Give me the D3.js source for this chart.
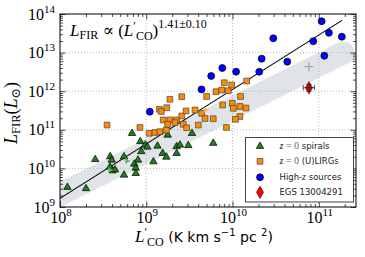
<!DOCTYPE html>
<html><head><meta charset="utf-8">
<script src="https://cdn.jsdelivr.net/npm/d3@7"></script>
<style>body{margin:0;background:#fff}svg{display:block}</style>
</head><body>
<svg id="c" width="365" height="257"></svg>
<script>
// ---- data (L'CO [K km/s pc^2], L_FIR [Lsun]) ----
const spirals = [[1.22e8,3.24e9],[2.00e8,3.01e9],[2.56e8,1.70e10],[3.82e8,2.03e10],[3.98e8,1.65e10],[5.52e8,2.01e10],[3.80e8,1.09e10],[4.08e8,8.71e9],[4.34e8,9.25e9],[5.52e8,6.75e9],[6.84e8,8.11e10],[8.53e8,4.98e10],[9.75e8,4.04e10],[1.03e9,3.58e10],[8.75e8,2.74e10],[8.01e8,1.65e10],[7.26e8,1.30e10],[7.56e8,1.02e10],[7.56e8,7.46e9],[1.21e9,1.49e10],[1.35e9,3.80e10],[1.55e9,2.46e10],[1.71e9,1.97e10],[1.77e9,7.33e10],[2.25e9,3.69e10],[2.46e9,4.04e10],[2.25e9,2.46e10],[3.07e9,3.92e10],[3.39e9,8.11e10],[5.98e9,4.50e10]];
const spiralLimits = [[5.98e8,1.56e10],[3.80e8,9.10e9]];
const lirgs = [[3.51e8,1.33e11],[8.45e8,1.15e11],[1.08e9,8.11e10],[1.26e9,8.51e10],[1.44e9,8.93e10],[1.71e9,9.89e10],[1.42e9,3.40e11],[1.49e9,2.98e11],[1.73e9,3.74e11],[1.88e9,6.17e11],[2.58e9,7.21e11],[1.57e9,1.80e11],[1.88e9,1.80e11],[2.25e9,1.80e11],[1.77e9,1.39e11],[2.15e9,1.53e11],[2.58e9,2.28e11],[2.69e9,1.39e11],[2.94e9,1.13e11],[2.89e9,3.07e11],[3.67e9,3.26e11],[4.39e9,2.67e11],[4.80e9,1.96e11],[5.98e9,1.94e11],[4.01e9,1.33e11],[5.01e9,7.30e11],[6.43e9,9.71e11],[7.48e9,1.07e12],[8.93e9,1.03e12],[8.02e9,1.66e12],[9.77e9,1.45e12],[1.46e10,1.84e12],[7.69e9,4.39e11],[9.93e9,4.86e11],[1.02e10,3.61e11],[1.24e10,7.30e11],[1.22e10,4.02e11],[1.43e10,3.67e11],[1.22e10,2.21e11],[1.08e10,1.87e11],[8.51e9,1.15e11]];
const lirgLimits = [[4.86e9,3.26e11]];
const highz = [[1.10e9,2.94e11],[4.37e9,1.11e12],[5.66e9,2.48e12],[7.61e9,3.99e12],[1.10e10,3.20e12],[2.04e10,3.18e12],[2.18e10,6.95e12],[2.97e10,2.34e13],[4.31e10,5.81e12],[8.63e10,1.97e13],[1.08e11,6.50e13],[1.16e11,8.26e12],[1.31e11,3.26e13],[1.85e11,2.58e13]];
const egs = [7.69e10,1.23e12];
const egsErrX = [6.6e10,8.9e10];
const egsErrY = [1.0e12,1.5e12];
const egsAlt = [7.69e10,4.32e12];
const fitSlope = 1.41, fitNorm = 1.68e9, fitRange = [1e8,1.86e11];
const bandEnds = [[5e7,9.7e8],[1.91e11,9.77e12]];
const xMajor = [1e8,1e9,1e10,1e11], xExp = ["8","9","10","11"];
const yMajor = [1e9,1e10,1e11,1e12,1e13,1e14], yExp = ["9","10","11","12","13","14"];
const legendItems = [
  {sym:"tri", parts:[["z","i"],[" = 0","m"],[" spirals","s"]]},
  {sym:"sq", parts:[["z","i"],[" = 0","m"],[" (U)LIRGs","s"]]},
  {sym:"circ", parts:[["High-","s"],["z","i"],[" sources","s"]]},
  {sym:"dia", parts:[["EGS 13004291","s"]]}
];

// ---- layout ----
const L=60,R=356,T=14,B=207;
const x = d3.scaleLog().domain([1e8,2.7e11]).range([L,R]);
const y = d3.scaleLog().domain([1e9,1e14]).range([B,T]);
const svg = d3.select("#c");
const SERIF = "'Liberation Serif','DejaVu Serif',serif";
const SANS = "'DejaVu Sans',sans-serif";
const GREEN="#1f7f1f", ORANGE="#ff8c00", BLUE="#0000ff", RED="#ff0000";

svg.append("defs").append("clipPath").attr("id","clip").append("rect").attr("x",L).attr("y",T).attr("width",R-L).attr("height",B-T);

// band
svg.append("path").attr("clip-path","url(#clip)")
  .attr("d", d3.line().x(d=>x(d[0])).y(d=>y(d[1]))(bandEnds))
  .attr("stroke","#e0e4e8").attr("stroke-width",23).attr("stroke-linecap","round").attr("fill","none");

// grid
const grid = svg.append("g").attr("stroke","#aaa").attr("stroke-width",0.8).attr("stroke-dasharray","1,2");
xMajor.slice(1).forEach(v=>grid.append("line").attr("x1",x(v)).attr("x2",x(v)).attr("y1",T).attr("y2",B));
yMajor.slice(1,-1).forEach(v=>grid.append("line").attr("y1",y(v)).attr("y2",y(v)).attr("x1",L).attr("x2",R));

// ticks via axes
const minorX=[], minorY=[];
for(let e=8;e<=11;e++) for(let k=2;k<=9;k++){const v=k*Math.pow(10,e); if(v<2.7e11) minorX.push(v);}
for(let e=9;e<=13;e++) for(let k=2;k<=9;k++) minorY.push(k*Math.pow(10,e));
function tk(g){g.select(".domain").remove(); g.selectAll("line").attr("stroke","#000").attr("stroke-width",0.7); g.selectAll("text").remove();}
[[d3.axisBottom,B],[d3.axisTop,T]].forEach(([ax,pos])=>{
  svg.append("g").attr("transform",`translate(0,${pos})`).call(ax(x).tickValues(xMajor).tickSize(-5.5)).call(tk);
  svg.append("g").attr("transform",`translate(0,${pos})`).call(ax(x).tickValues(minorX).tickSize(-3)).call(tk);
});
[[d3.axisLeft,L],[d3.axisRight,R]].forEach(([ax,pos])=>{
  svg.append("g").attr("transform",`translate(${pos},0)`).call(ax(y).tickValues(yMajor).tickSize(-5.5)).call(tk);
  svg.append("g").attr("transform",`translate(${pos},0)`).call(ax(y).tickValues(minorY).tickSize(-3)).call(tk);
});

// fit line
svg.append("path").attr("clip-path","url(#clip)")
  .attr("d", d3.line().x(d=>x(d)).y(d=>y(fitNorm*Math.pow(d/1e8,fitSlope)))(fitRange))
  .attr("stroke","#000").attr("stroke-width",1.1).attr("fill","none");

// markers
const triSym = d3.symbol(d3.symbolTriangle,24);
const sqSym = d3.symbol(d3.symbolSquare,33);
const circSym = d3.symbol(d3.symbolCircle,38);
const diaSym = d3.symbol(d3.symbolDiamond,42);
const sym = {tri:[triSym,GREEN,"#000"], sq:[sqSym,ORANGE,"#444"], circ:[circSym,BLUE,"#000"], dia:[diaSym,RED,"#400"]};
function pts(data,key){
  const [s,f,st]=sym[key];
  svg.append("g").selectAll("path").data(data).join("path")
    .attr("transform",d=>`translate(${x(d[0])},${y(d[1])})`)
    .attr("d",s).attr("fill",f).attr("stroke",st).attr("stroke-width",0.7);
}
pts(spirals,"tri");
svg.append("g").selectAll("path").data(spiralLimits).join("path")
  .attr("transform",d=>`translate(${x(d[0])},${y(d[1])}) rotate(90)`)
  .attr("d",d3.symbol(d3.symbolTriangle,14)).attr("fill","#5cb85c").attr("stroke","none");
pts(lirgs,"sq");
svg.append("g").selectAll("path").data(lirgLimits).join("path")
  .attr("transform",d=>`translate(${x(d[0])},${y(d[1])}) rotate(90)`)
  .attr("d",d3.symbol(d3.symbolTriangle,14)).attr("fill","#ffb347").attr("stroke","none");
pts(highz,"circ");

// gray plus
svg.append("path").attr("transform",`translate(${x(egsAlt[0])},${y(egsAlt[1])})`)
  .attr("d","M-4.5,0H4.5M0,-4.5V4.5").attr("stroke","#999").attr("stroke-width",1);
// EGS
pts([egs],"dia");
const eb = svg.append("g").attr("stroke","#222").attr("stroke-width",0.8);
eb.append("line").attr("x1",x(egsErrX[0])).attr("x2",x(egsErrX[1])).attr("y1",y(egs[1])).attr("y2",y(egs[1]));
eb.append("line").attr("y1",y(egsErrY[0])).attr("y2",y(egsErrY[1])).attr("x1",x(egs[0])).attr("x2",x(egs[0]));
[egsErrX[0],egsErrX[1]].forEach(v=>eb.append("line").attr("x1",x(v)).attr("x2",x(v)).attr("y1",y(egs[1])-2.5).attr("y2",y(egs[1])+2.5));
[egsErrY[0],egsErrY[1]].forEach(v=>eb.append("line").attr("y1",y(v)).attr("y2",y(v)).attr("x1",x(egs[0])-2.5).attr("x2",x(egs[0])+2.5));

// frame
svg.append("rect").attr("x",L).attr("y",T).attr("width",R-L).attr("height",B-T).attr("fill","none").attr("stroke","#000").attr("stroke-width",1);

// tick labels
xMajor.forEach((v,i)=>{
  const t=svg.append("text").attr("x",x(v)+1).attr("y",223).attr("text-anchor","middle").attr("font-family",SERIF).attr("font-size",16).attr("fill","#000");
  t.append("tspan").text("10");
  t.append("tspan").attr("dy",-7).attr("font-size",11).text(xExp[i]);
});
yMajor.forEach((v,i)=>{
  const t=svg.append("text").attr("x",55).attr("y",y(v)+5.5).attr("text-anchor","end").attr("font-family",SERIF).attr("font-size",16).attr("fill","#000");
  t.append("tspan").text("10");
  t.append("tspan").attr("dy",-7).attr("font-size",11).text(yExp[i]);
});

// annotation
const ann = svg.append("text").attr("x",70).attr("y",36).attr("font-family",SERIF).attr("font-size",17).attr("fill","#000");
ann.append("tspan").attr("font-style","italic").text("L");
ann.append("tspan").attr("font-size",12).attr("dy",3).text("FIR");
ann.append("tspan").attr("dy",-3).text(" \u221D (");
ann.append("tspan").attr("font-style","italic").text("L");
ann.append("tspan").attr("font-size",12).attr("dy",-6).text("\u2032");
ann.append("tspan").attr("font-size",12).attr("dy",9.5).text("CO");
ann.append("tspan").attr("dy",-3.5).text(")");
ann.append("tspan").attr("font-size",12).attr("dy",-8).text("1.41\u00B10.10");

// y label
const yl = svg.append("text").attr("transform","translate(17,113) rotate(-90)").attr("text-anchor","middle").attr("font-family",SERIF).attr("font-size",18).attr("fill","#000");
yl.append("tspan").attr("font-style","italic").text("L");
yl.append("tspan").attr("font-size",12.5).attr("dy",3).text("FIR");
yl.append("tspan").attr("dy",-3).text("(");
yl.append("tspan").attr("font-style","italic").text("L");
yl.append("tspan").attr("font-size",12.5).attr("dy",3).text("\u2299");
yl.append("tspan").attr("dy",-3).text(")");

// x label
const xl = svg.append("text").attr("x",135).attr("y",242).attr("font-family",SANS).attr("font-size",14).attr("fill","#000");
xl.append("tspan").attr("font-family",SERIF).attr("font-style","italic").attr("font-size",17).text("L");
xl.append("tspan").attr("font-family",SERIF).attr("font-size",12).attr("dy",-6).text("\u2032");
xl.append("tspan").attr("font-family",SERIF).attr("font-size",12).attr("dy",9.5).text("CO");
xl.append("tspan").attr("dy",-3.5).text(" (K km s");
xl.append("tspan").attr("font-size",10).attr("dy",-6).text("\u22121");
xl.append("tspan").attr("dy",6).text(" pc ");
xl.append("tspan").attr("font-size",10).attr("dy",-6).text("2");
xl.append("tspan").attr("dy",6).text(")");

// legend
const lg = svg.append("g");
lg.append("rect").attr("x",245.5).attr("y",137.5).attr("width",108).attr("height",64.5).attr("fill","#fff").attr("stroke","#444").attr("stroke-width",1);
const rowY=[146.3,161.3,177.3,192.3];
legendItems.forEach((it,i)=>{
  const [s,f,st]=sym[it.sym];
  lg.append("path").attr("transform",`translate(260,${rowY[i]})`).attr("d",s).attr("fill",f).attr("stroke",st).attr("stroke-width",0.7);
  const t=lg.append("text").attr("x",279.5).attr("y",rowY[i]+3).attr("font-size",8.5).attr("fill","#222");
  it.parts.forEach(([txt,k])=>{
    const sp=t.append("tspan").text(txt);
    if(k==="s") sp.attr("font-family",SANS);
    else { sp.attr("font-family",SERIF).attr("font-size",10); if(k==="i") sp.attr("font-style","italic"); else sp.attr("fill","#666"); }
  });
});
</script>
</body></html>
